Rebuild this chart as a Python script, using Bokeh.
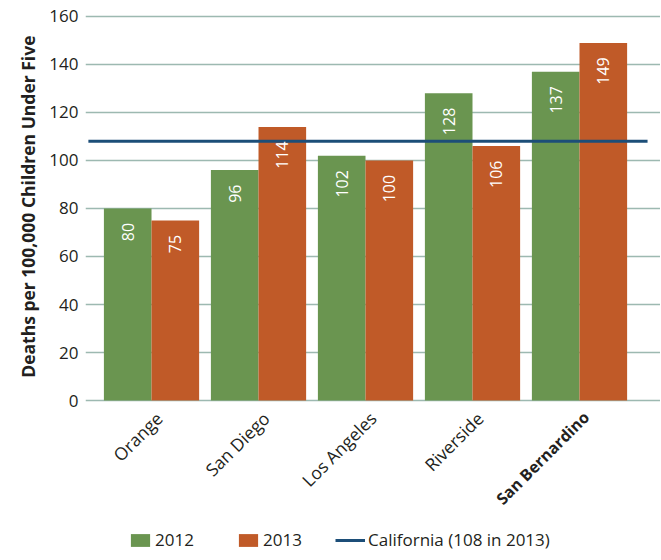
import math
from bokeh.plotting import figure
from bokeh.models import Range1d, FixedTicker, Legend, LegendItem, ColumnDataSource, Title
from bokeh.core.properties import value
from bokeh.embed import file_html
from bokeh.resources import INLINE

counties = ["Orange", "San Diego", "Los Angeles", "Riverside", "San Bernardino"]
bold_county = "San Bernardino"
v2012 = [80, 96, 102, 128, 137]
v2013 = [75, 114, 100, 106, 149]
california = 108
y_ticks = [0, 20, 40, 60, 80, 100, 120, 140, 160]
series_names = ["2012", "2013"]
california_label = "California (108 in 2013)"
y_title = "Deaths per 100,000 Children Under Five"

GREEN = "#6A9550"
ORANGE = "#C05A28"
NAVY = "#1C4E78"
GRID = "#9DB9B1"
TEXT = "#231F20"
FONT = "Open Sans"

n = len(counties)
bw = 0.445
idx = list(range(n))

p = figure(width=660, height=558,
           x_range=Range1d(-0.617, 4.757), y_range=Range1d(-65.833, 160.833),
           x_axis_location=None,
           output_backend="svg", toolbar_location=None,
           min_border_left=85, min_border_right=0, min_border_top=14, min_border_bottom=0)
p.outline_line_color = None
p.background_fill_color = "white"
p.border_fill_color = "white"
p.xgrid.visible = False
p.ygrid.ticker = FixedTicker(ticks=y_ticks)
p.ygrid.grid_line_color = GRID
p.ygrid.grid_line_width = 1.5
p.yaxis.ticker = FixedTicker(ticks=y_ticks)
p.yaxis.axis_line_color = None
p.yaxis.major_tick_line_color = None
p.yaxis.minor_tick_line_color = None
p.yaxis.major_tick_out = 0
p.yaxis.major_tick_in = 0
p.yaxis.major_label_standoff = 7
p.yaxis.major_label_text_font = FONT
p.yaxis.major_label_text_font_size = "17px"
p.yaxis.major_label_text_color = TEXT

p.add_layout(Title(text=y_title, align="right", offset=21, standoff=14,
                   text_font=FONT, text_font_style="bold", text_font_size="17.5px",
                   text_color=TEXT), "left")

src = ColumnDataSource(dict(
    x12=[i - bw / 2 for i in idx], x13=[i + bw / 2 for i in idx],
    v12=v2012, v13=v2013,
    t12=[str(v) for v in v2012], t13=[str(v) for v in v2013],
    ly12=[v - 6 for v in v2012], ly13=[v - 6 for v in v2013],
))

r12 = p.vbar(x="x12", top="v12", bottom=0, width=bw, source=src, fill_color=GREEN, line_color=None)
r13 = p.vbar(x="x13", top="v13", bottom=0, width=bw, source=src, fill_color=ORANGE, line_color=None)

rcal = p.line(x=[-0.59, n - 1 + 0.636], y=[california, california], line_color=NAVY, line_width=3)

for xs, ys, ts in (("x12", "ly12", "t12"), ("x13", "ly13", "t13")):
    p.text(x=xs, y=ys, text=ts, source=src, angle=math.pi / 2,
           text_align="right", text_baseline="middle", text_color="white",
           text_font=value(FONT), text_font_size="16px")

lab_src = ColumnDataSource(dict(
    x=[i - 0.01 for i in idx], y=[-2.5] * n, text=counties,
    style=["bold" if c == bold_county else "normal" for c in counties],
    size=["16px" if c == bold_county else "17.5px" for c in counties],
))
p.text(x="x", y="y", text="text", source=lab_src, angle=math.pi / 4,
       text_align="right", text_baseline="top", text_color=TEXT,
       text_font=value(FONT), text_font_size="size", text_font_style="style")

def make_legend(label, rend, loc, gw):
    return Legend(items=[LegendItem(label=label, renderers=[rend])], location=loc,
                  orientation="horizontal", glyph_width=gw, glyph_height=16,
                  label_standoff=3, padding=0, margin=0, spacing=0,
                  border_line_color=None, background_fill_alpha=0,
                  label_text_font=FONT, label_text_font_size="17px", label_text_color=TEXT)

p.add_layout(make_legend(series_names[0], r12, (43, 7), 24))
p.add_layout(make_legend(series_names[1], r13, (151, 7), 24))
p.add_layout(make_legend(california_label, rcal, (250, 7), 30))

open("out.html", "w").write(file_html(p, INLINE))
